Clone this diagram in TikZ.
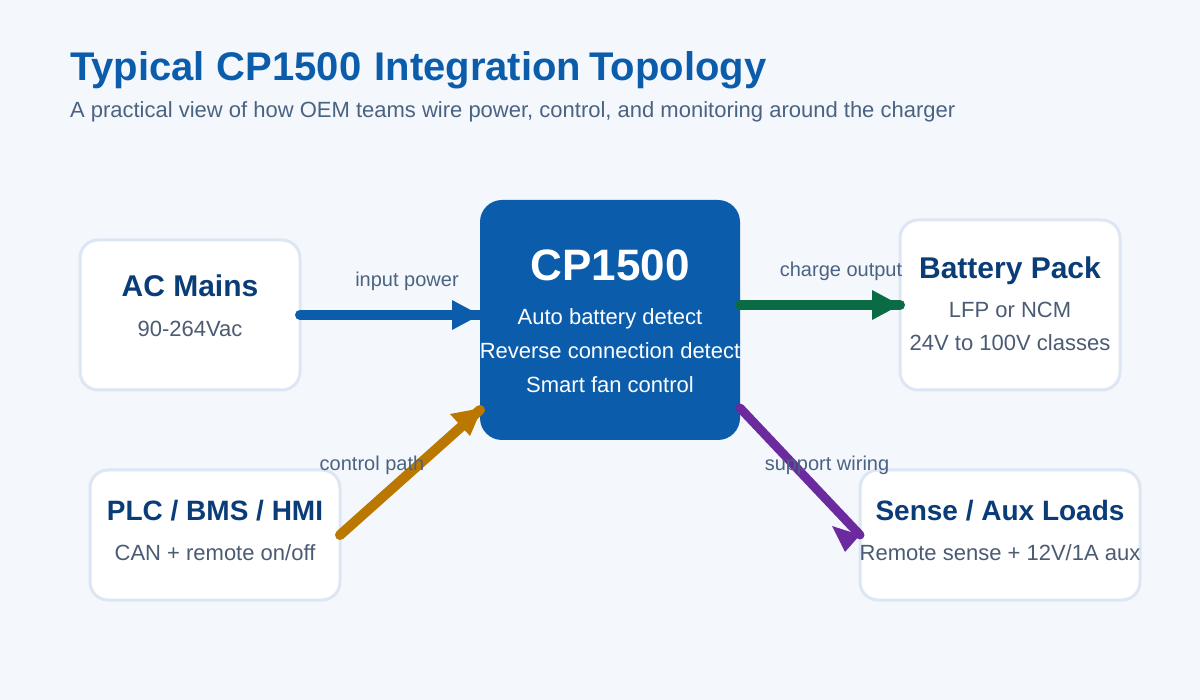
\documentclass[tikz,border=0pt]{standalone}
\usepackage{fontspec}
\setmainfont{Liberation Sans}
\usetikzlibrary{arrows.meta}
\definecolor{bgc}{HTML}{F4F7FC}
\definecolor{bluec}{HTML}{0B5CAB}
\definecolor{navyc}{HTML}{0A3D78}
\definecolor{edgec}{HTML}{DCE6F4}
\definecolor{mutedc}{HTML}{4A5B73}
\definecolor{subc}{HTML}{4A6382}
\definecolor{greenc}{HTML}{0B6B45}
\definecolor{orangec}{HTML}{BB7800}
\definecolor{purplec}{HTML}{6B2A9E}
\newcommand{\fs}[1]{\fontsize{#1}{#1}\selectfont}
\tikzset{
  x=1pt,y=-1pt,
  every node/.style={inner sep=0pt,outer sep=0pt},
  card/.style={draw=edgec,line width=3pt,fill=white,rounded corners=18pt,anchor=north west},
  core/.style={fill=bluec,rounded corners=22pt,anchor=north west},
  ttl/.style={text=navyc,font=\bfseries\fs{28}},
  ttlb/.style={text=navyc,font=\bfseries\fs{30}},
  sub/.style={text=mutedc,font=\fs{22}},
  lbl/.style={text=subc,font=\fs{20}},
  wire/.style={line cap=round}
}
\begin{document}
\begin{tikzpicture}
\useasboundingbox[fill=bgc] (0,0) rectangle (1200,700);
\node[anchor=base west,text=bluec,font=\bfseries\fs{40}] (title) at (70,81) {Typical\kern1pt{} CP1500\kern2pt{} Integration\kern-3pt{} Topology};
\node[anchor=base west,text=subc,font=\fs{22}] (subtitle) at (70,118) {A practical view of how OEM teams wire power, control, and monitoring around the charger};
\node[card,minimum width=220pt,minimum height=150pt] (ac) at (80,240) {};
\node[card,minimum width=250pt,minimum height=130pt] (plc) at (90,470) {};
\node[card,minimum width=220pt,minimum height=170pt] (bat) at (900,220) {};
\node[card,minimum width=280pt,minimum height=130pt] (aux) at (860,470) {};
\node[core,minimum width=260pt,minimum height=240pt] (cp) at (480,200) {};
\node[anchor=base,ttlb] (t1) at (190,297) {AC Mains};
\node[anchor=base,sub] (s1) at (190,337) {90-264Vac};
\node[anchor=base,ttl] (t2) at (215,520) {PLC / BMS / HMI};
\node[anchor=base,sub] (s2) at (215,560) {CAN + remote on/off};
\node[anchor=base,ttlb] (t3) at (1010,279) {Battery Pack};
\node[anchor=base,sub] (s3) at (1010,318) {LFP or NCM};
\node[anchor=base,sub] (s4) at (1010,350.5) {24V to 100V classes};
\node[anchor=base,ttl] (t4) at (1000,520) {Sense / Aux Loads};
\node[anchor=base,sub] (s5) at (1000,560) {Remote sense + 12V/1A aux};
\node[anchor=base,text=white,font=\bfseries\fs{44}] (c0) at (610,281) {CP1500};
\node[anchor=base,text=white,font=\fs{22}] (c1) at (610,324.5) {Auto battery detect};
\node[anchor=base,text=white,font=\fs{22}] (c2) at (610,358.5) {Reverse connection detect};
\node[anchor=base,text=white,font=\fs{22}] (c3) at (610,392.5) {Smart fan control};
\coordinate (a1) at (300,315); \coordinate (a2) at (480,315);
\coordinate (b1) at (740,305); \coordinate (b2) at (900,305);
\coordinate (c1p) at (340,535); \coordinate (c2p) at (480,410);
\coordinate (d1) at (740,408); \coordinate (d2) at (860,535);
\draw[wire,bluec,line width=10pt] (a1) -- (a2);
\fill[bluec] (452,300) -- (480,315) -- (452,330) -- cycle;
\draw[wire,greenc,line width=10pt] (b1) -- (b2);
\fill[greenc] (872,290) -- (900,305) -- (872,320) -- cycle;
\draw[wire,orangec,line width=10pt] (c1p) -- (c2p);
\fill[orangec] (450,414) -- (482,408) -- (470,436) -- cycle;
\draw[wire,purplec,line width=9pt] (d1) -- (d2);
\fill[purplec] (832,526) -- (860,535) -- (845,552) -- cycle;
\node[anchor=base,lbl] (l1) at (407,286.5) {input power};
\node[anchor=base,lbl] (l2) at (841,276.5) {charge output};
\node[anchor=base,lbl] (l3) at (372,470.5) {control path};
\node[anchor=base,lbl] (l4) at (827,470.5) {support wiring};
\end{tikzpicture}
\end{document}
